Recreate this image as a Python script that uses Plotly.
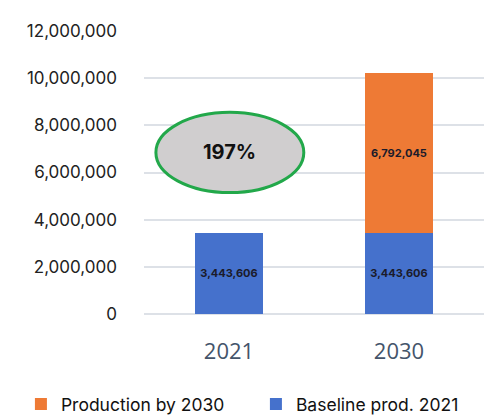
import plotly.graph_objects as go

years = ["2021", "2030"]
baseline = [3443606, 3443606]
production_2030 = [None, 6792045]
growth_label = "197%"

label_font = dict(family="Inter", size=11, color="#1b1b2a", weight="bold")

fig = go.Figure()

fig.add_trace(go.Bar(
    x=years, y=baseline, name="Baseline prod. 2021",
    marker=dict(color="#4571cc", line=dict(width=0)),
    text=[f"{v:,}" for v in baseline],
    textposition="inside", insidetextanchor="middle", textangle=0,
    textfont=label_font,
))
fig.add_trace(go.Bar(
    x=years, y=production_2030, name="Production by 2030",
    marker=dict(color="#ee7a35", line=dict(width=0)),
    text=[None if v is None else f"{v:,}" for v in production_2030],
    textposition="inside", insidetextanchor="middle", textangle=0,
    textfont=label_font,
))

# Growth bubble over the 2021 column
fig.add_shape(type="circle", xref="x", yref="y",
              x0=-0.43, x1=0.44, y0=5.15e6, y1=8.55e6,
              fillcolor="#d0cecf", line=dict(color="#22a84a", width=3),
              layer="above")
fig.add_annotation(x=0, y=6.88e6, xref="x", yref="y", text=f"<b>{growth_label}</b>",
                   showarrow=False, font=dict(family="Inter", size=20, color="#111111"))

fig.update_layout(
    barmode="stack",
    bargap=0.6,
    width=487, height=416,
    margin=dict(l=144, r=3, t=31, b=102, autoexpand=False),
    paper_bgcolor="white", plot_bgcolor="white",
    showlegend=True,
    legend=dict(orientation="h", x=-0.362, xanchor="left",
                y=-0.255, yanchor="top", bgcolor="rgba(0,0,0,0)",
                traceorder="reversed", itemwidth=30,
                entrywidth=190, entrywidthmode="pixels",
                font=dict(family="Inter", size=17.5, color="#111111")),
    xaxis=dict(tickfont=dict(family="Open Sans", size=22, color="#44546a"),
               showline=False, ticks="", ticklabelstandoff=22),
    yaxis=dict(range=[0, 12e6], dtick=2e6, tickformat=",d",
               gridcolor="#dde1e7", gridwidth=1.5, zeroline=True,
               zerolinecolor="#dde1e7", zerolinewidth=1.5,
               tickfont=dict(family="Inter", size=17, color="#222222"),
               ticklabelstandoff=26),
)

fig.write_html("out.html")
